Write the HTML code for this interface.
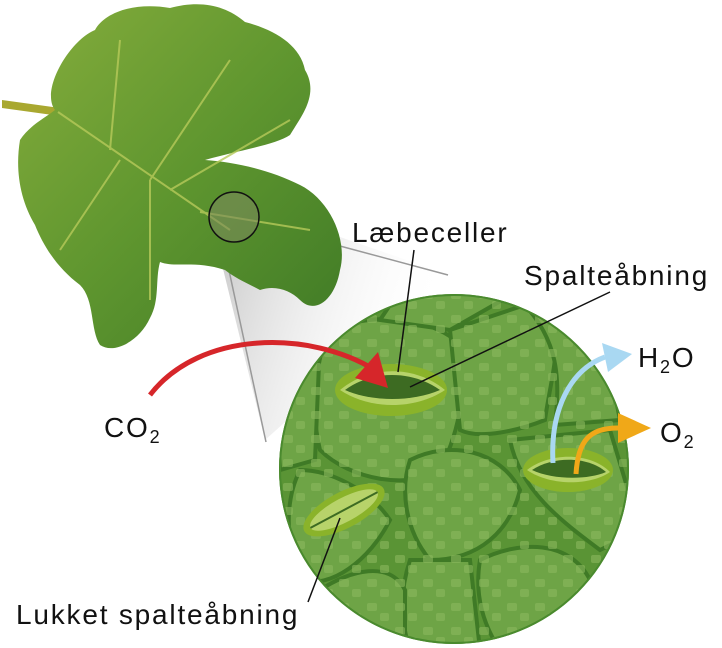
<!DOCTYPE html>
<html><head><style>body{margin:0;background:#fff}svg{display:block}text{font-family:"Liberation Sans",sans-serif;fill:#111;letter-spacing:1.8px}</style></head><body>
<svg width="722" height="648" viewBox="0 0 722 648" xmlns="http://www.w3.org/2000/svg">
<defs>
<linearGradient id="lg" x1="0" y1="0" x2="1" y2="1"><stop offset="0" stop-color="#86ad3c"/><stop offset="0.5" stop-color="#5f962f"/><stop offset="1" stop-color="#3f7a26"/></linearGradient>
<clipPath id="cc"><circle cx="454" cy="469" r="174"/></clipPath>
<linearGradient id="cone" x1="0" y1="0" x2="1" y2="0.3"><stop offset="0" stop-color="#888" stop-opacity="0.5"/><stop offset="1" stop-color="#fff" stop-opacity="0"/></linearGradient>
<pattern id="pt" width="28" height="24" patternUnits="userSpaceOnUse"><rect x="3" y="3" width="10" height="8" rx="2" fill="#8ab85e" opacity="0.6"/><rect x="16" y="13" width="9" height="8" rx="2" fill="#8ab85e" opacity="0.6"/></pattern>
</defs>
<polygon points="214,232 262,210 450,275 265,440" fill="url(#cone)"/>
<line x1="258" y1="224" x2="448" y2="275" stroke="#999" stroke-width="1.5"/>
<line x1="222" y1="238" x2="266" y2="442" stroke="#999" stroke-width="1.5"/>
<path d="M2,100 L60,108 L60,116 L2,108Z" fill="#a9a830"/>
<path d="M55,110 C40,90 70,40 95,30 C105,12 135,2 170,8 C200,0 225,5 245,22 C275,30 300,45 305,70 C320,95 300,118 290,135 C275,145 240,150 205,160 C235,162 270,170 300,185 C330,200 348,240 340,270 C335,300 315,315 300,300 C290,290 275,285 260,290 C245,282 235,278 225,270 C195,260 175,268 160,262 C155,280 160,300 150,318 C140,340 115,355 100,345 C90,330 95,300 80,285 C60,270 45,250 35,225 C20,200 15,170 20,140 C30,125 45,118 55,110Z" fill="url(#lg)"/>
<path d="M58,112 L230,230 M110,150 L120,40 M150,180 L230,60 M170,190 L290,120 M200,212 L310,230 M120,160 L60,250 M150,180 L150,300" stroke="#b6c95a" stroke-width="2" fill="none" opacity="0.8"/>
<circle cx="234" cy="217" r="25" fill="#7a8a5a" fill-opacity="0.6" stroke="#111" stroke-width="1.5"/>
<circle cx="454" cy="469" r="175" fill="#5a9435"/>
<g clip-path="url(#cc)" stroke="#3f7a26" stroke-width="4">
<g fill="#6ea446">
<path d="M330,330 C380,310 430,320 455,340 C470,380 460,430 440,470 C410,490 350,480 320,450 C310,410 315,360 330,330Z"/>
<path d="M450,330 L540,300 C570,320 550,380 545,420 C520,430 480,440 460,430Z"/>
<path d="M520,300 L600,320 L620,420 L555,425 C560,380 560,340 520,300Z"/>
<path d="M300,470 C330,470 370,490 390,520 C370,560 330,590 300,580 C285,540 285,500 300,470Z"/>
<path d="M410,460 C450,440 500,450 520,490 C510,530 480,560 430,560 C405,530 400,490 410,460Z"/>
<path d="M510,440 L610,430 L640,530 L600,550 C560,520 520,490 510,440Z"/>
<path d="M480,560 C520,540 570,540 590,580 C590,620 560,650 500,650 C480,620 475,590 480,560Z"/>
<path d="M410,560 L470,560 L480,650 L410,650 C400,620 400,590 410,560Z"/>
<path d="M320,590 C350,570 390,560 405,590 L405,650 L330,650Z"/>
<path d="M275,380 L320,340 L315,460 L280,470Z"/>
<path d="M400,290 L520,290 L450,330 L380,320Z"/>
</g>
<rect x="270" y="290" width="370" height="360" fill="url(#pt)" stroke="none"/>
</g>
<circle cx="454" cy="469" r="174" fill="none" stroke="#4a8a2e" stroke-width="2"/>
<ellipse cx="391" cy="390" rx="56" ry="26" fill="#8ab32a"/>
<path d="M340,390 C370,365 415,365 445,390 C415,410 370,410 340,390Z" fill="#b7d36a"/>
<path d="M345,390 C372,370 412,370 440,390 C412,402 372,402 345,390Z" fill="#3d6b22"/>
<ellipse cx="568" cy="470" rx="45" ry="22" fill="#8ab32a"/>
<path d="M527,470 C550,452 590,452 610,472 C590,486 550,486 527,470Z" fill="#b7d36a"/>
<path d="M532,470 C553,456 588,456 606,472 C588,480 553,480 532,470Z" fill="#3d6b22"/>
<g transform="rotate(-28 344 510)">
<ellipse cx="344" cy="510" rx="45" ry="18" fill="#8ab32a"/>
<ellipse cx="344" cy="510" rx="38" ry="12" fill="#b7d36a"/>
<line x1="306" y1="510" x2="382" y2="510" stroke="#3d6b22" stroke-width="2"/>
</g>
<path d="M150,395 C200,330 310,330 375,370" stroke="#d6262a" stroke-width="5" fill="none"/>
<polygon points="388,388 355,378 378,352" fill="#d6262a"/>
<path d="M553,463 C550,410 570,370 605,357" stroke="#a9d8f2" stroke-width="5" fill="none"/>
<polygon points="632,354 602,343 608,372" fill="#a9d8f2"/>
<path d="M576,474 C578,440 590,428 618,428" stroke="#f0a818" stroke-width="5" fill="none"/>
<polygon points="651,428 618,413 618,443" fill="#f0a818"/>
<line x1="414" y1="250" x2="398" y2="372" stroke="#111" stroke-width="1.5"/>
<line x1="610" y1="292" x2="410" y2="387" stroke="#111" stroke-width="1.5"/>
<line x1="340" y1="518" x2="308" y2="602" stroke="#111" stroke-width="1.5"/>
<text x="352" y="242" font-size="28">Læbeceller</text>
<text x="524" y="285" font-size="28">Spalteåbning</text>
<text x="638" y="367" font-size="28">H<tspan font-size="18" dy="6">2</tspan><tspan dy="-6">O</tspan></text>
<text x="660" y="442" font-size="28">O<tspan font-size="18" dy="6">2</tspan></text>
<text x="104" y="437" font-size="28">CO<tspan font-size="18" dy="6">2</tspan></text>
<text x="16" y="624" font-size="28">Lukket spalteåbning</text>
</svg>
</body></html>
